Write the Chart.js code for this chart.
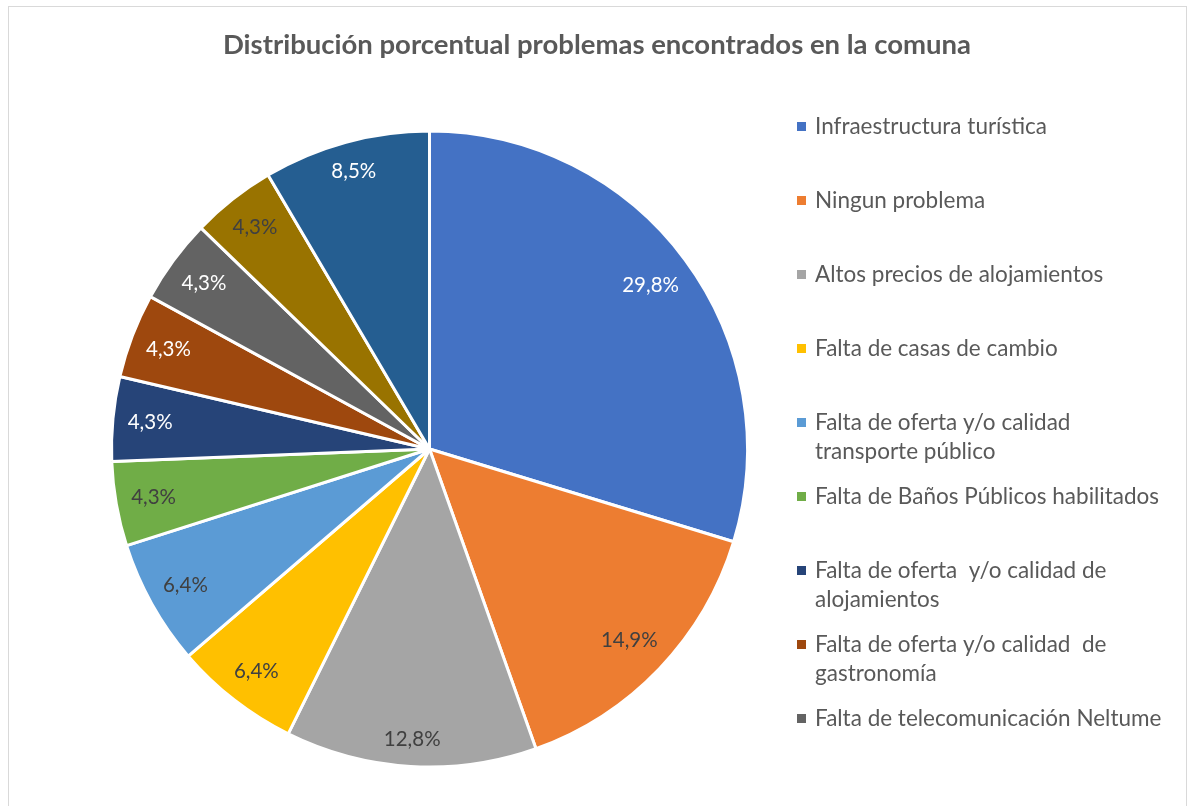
<!DOCTYPE html>
<html>
<head>
<meta charset="utf-8">
<script src="https://cdn.jsdelivr.net/npm/chart.js@4.4.1/dist/chart.umd.min.js"></script>
<style>
  html, body { margin: 0; padding: 0; background: #ffffff; }
  #wrap { width: 1189px; height: 806px; position: relative; }
</style>
</head>
<body>
<div id="wrap"><canvas id="c" width="1189" height="806"></canvas></div>
<script>
const chartTitle = "Distribución porcentual problemas encontrados en la comuna";

const categories = [
  "Infraestructura turística",
  "Ningun problema",
  "Altos precios de alojamientos",
  "Falta de casas de cambio",
  ["Falta de oferta y/o calidad", "transporte público"],
  "Falta de Baños Públicos habilitados",
  ["Falta de oferta  y/o calidad de", "alojamientos"],
  ["Falta de oferta y/o calidad  de", "gastronomía"],
  "Falta de telecomunicación Neltume",
  "Categoría 10",
  "Categoría 11"
];

const percentValues = [29.8, 14.9, 12.8, 6.4, 6.4, 4.3, 4.3, 4.3, 4.3, 4.3, 8.5];

const sliceColors = [
  "#4472C4", "#ED7D31", "#A5A5A5", "#FFC000", "#5B9BD5", "#70AD47",
  "#264478", "#9E480E", "#636363", "#997300", "#255E91"
];

const labelColors = [
  "#FFFFFF", "#404040", "#404040", "#404040", "#404040", "#404040",
  "#FFFFFF", "#FFFFFF", "#FFFFFF", "#404040", "#FFFFFF"
];

const legendVisibleCount = 9;

const FONT = "Lato, 'Open Sans', 'Noto Sans', sans-serif";

const framePlugin = {
  id: "frame",
  beforeDraw(chart) {
    const ctx = chart.ctx;
    ctx.save();
    ctx.fillStyle = "#ffffff";
    ctx.fillRect(0, 0, chart.width, chart.height);
    ctx.strokeStyle = "#D9D9D9";
    ctx.lineWidth = 1;
    ctx.strokeRect(8.5, 6.5, 1178, 830);
    ctx.fillStyle = "#595959";
    ctx.font = "bold 27.5px " + FONT;
    ctx.textAlign = "center";
    ctx.textBaseline = "middle";
    ctx.fillText(chartTitle, 597, 45);
    ctx.restore();
  }
};

const legendPlugin = {
  id: "customLegend",
  afterDraw(chart) {
    const ctx = chart.ctx;
    const labels = chart.data.labels;
    const colors = chart.data.datasets[0].backgroundColor;
    ctx.save();
    ctx.font = "22.5px " + FONT;
    ctx.textAlign = "left";
    ctx.textBaseline = "middle";
    const x0 = 797, y0 = 127, step = 74, lineH = 28.5;
    for (let i = 0; i < legendVisibleCount; i++) {
      const y = y0 + i * step;
      ctx.fillStyle = colors[i];
      ctx.fillRect(x0, y - 5, 9, 9);
      ctx.fillStyle = "#595959";
      const lines = Array.isArray(labels[i]) ? labels[i] : [labels[i]];
      lines.forEach((ln, k) => ctx.fillText(ln, x0 + 18, y + k * lineH));
    }
    ctx.restore();
  }
};

const dataLabelPlugin = {
  id: "sliceLabels",
  afterDatasetsDraw(chart) {
    const ctx = chart.ctx;
    const meta = chart.getDatasetMeta(0);
    const vals = chart.data.datasets[0].data;
    ctx.save();
    ctx.font = "20.5px " + FONT;
    ctx.textAlign = "center";
    ctx.textBaseline = "middle";
    meta.data.forEach((arc, i) => {
      const p = arc.getProps(["x", "y", "startAngle", "endAngle", "outerRadius"], true);
      const mid = (p.startAngle + p.endAngle) / 2;
      const txt = vals[i].toFixed(1).replace(".", ",") + "%";
      const w = ctx.measureText(txt).width;
      const h = 20;
      const c = Math.cos(mid), s = Math.sin(mid);
      const target = p.outerRadius - 14;
      let d = target;
      for (let it = 0; it < 30; it++) {
        const cx = d * c + Math.sign(c) * w / 2;
        const cy = d * s + Math.sign(s) * h / 2;
        const dist = Math.hypot(cx, cy);
        d += (target - dist) * 0.7;
      }
      ctx.fillStyle = labelColors[i];
      ctx.fillText(txt, p.x + d * c, p.y + d * s);
    });
    ctx.restore();
  }
};

new Chart(document.getElementById("c"), {
  type: "pie",
  data: {
    labels: categories,
    datasets: [{
      data: percentValues,
      backgroundColor: sliceColors,
      borderColor: "#FFFFFF",
      borderWidth: 3
    }]
  },
  options: {
    responsive: false,
    animation: false,
    layout: { padding: { left: 110, top: 129, right: 440, bottom: 37 } },
    plugins: {
      legend: { display: false },
      title: { display: false },
      tooltip: { enabled: false }
    }
  },
  plugins: [framePlugin, legendPlugin, dataLabelPlugin]
});
</script>
</body>
</html>
